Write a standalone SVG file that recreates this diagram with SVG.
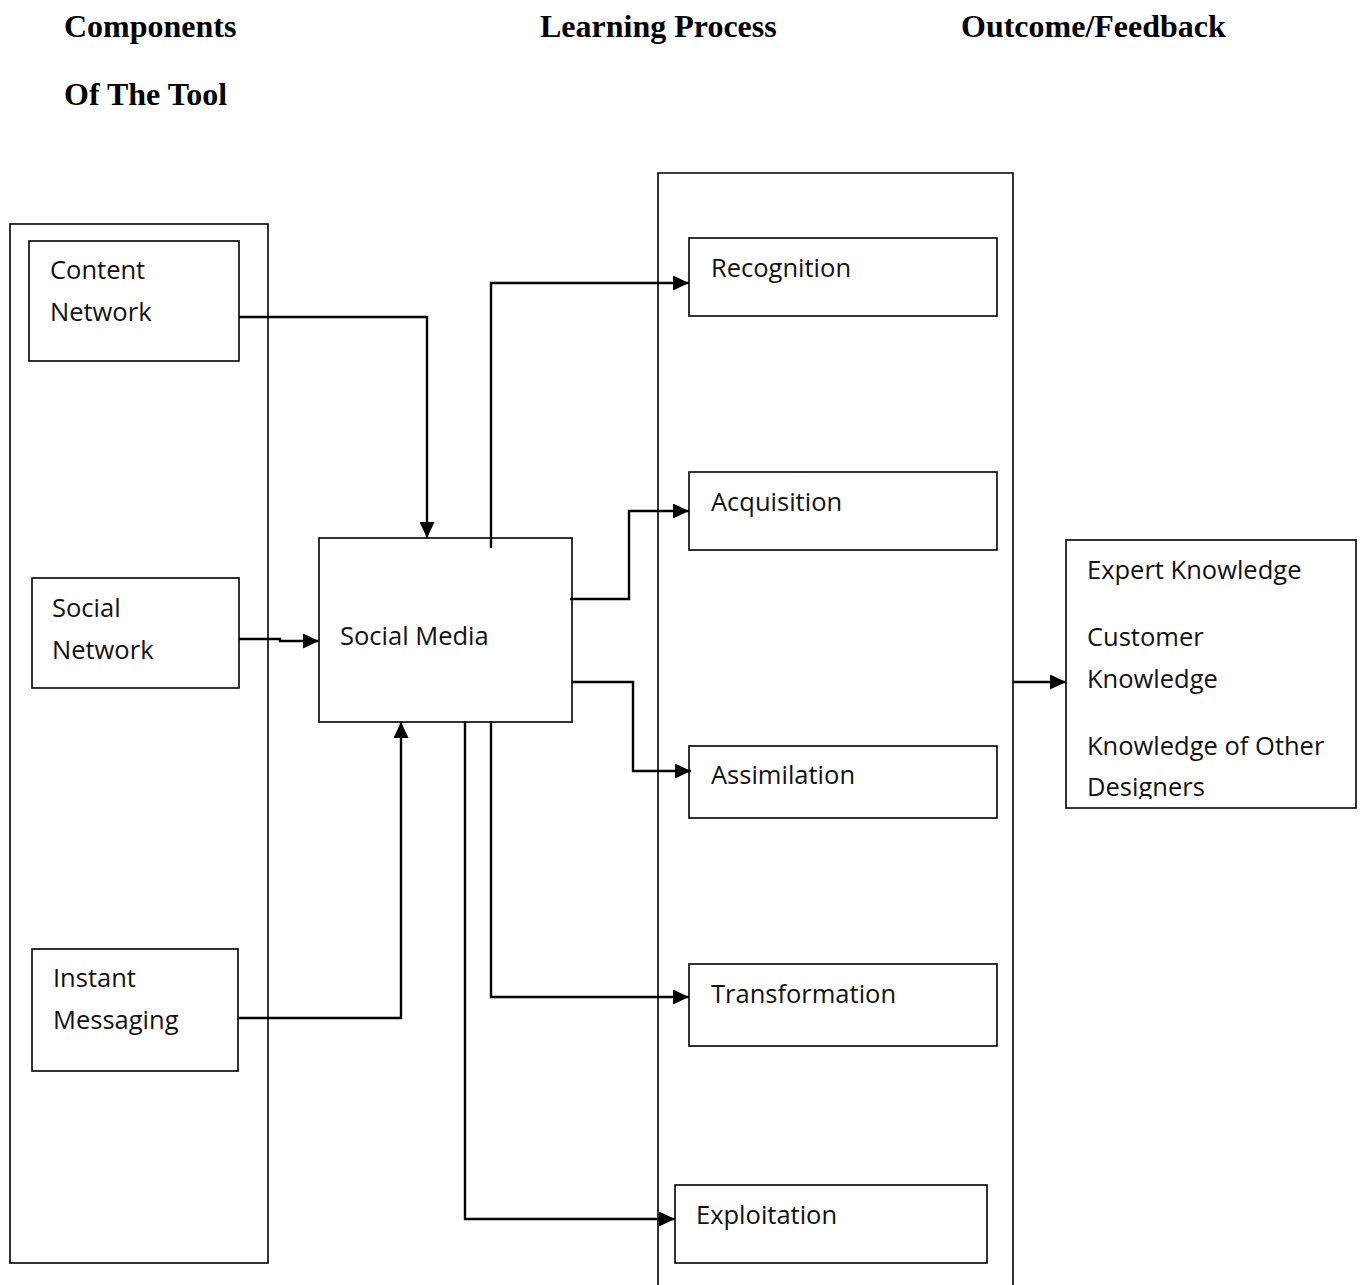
<svg xmlns="http://www.w3.org/2000/svg" width="1362" height="1285" viewBox="0 0 1362 1285">
<style>
.hdr{font-family:"Liberation Serif","Times New Roman",serif;font-weight:bold;font-size:32px;fill:#000}
.t{font-family:"Open Sans","Noto Sans",sans-serif;font-size:25.5px;fill:#111}
.box{fill:#fff;stroke:#000;stroke-width:1.6}
.frame{fill:none;stroke:#000;stroke-width:1.6}
.c{fill:none;stroke:#000;stroke-width:2.4}
</style>
<defs>
<marker id="ah" viewBox="0 0 16 15" refX="16" refY="7.5" markerWidth="16" markerHeight="15" markerUnits="userSpaceOnUse" orient="auto">
<path d="M0,0 L16,7.5 L0,15 Z" fill="#000"/>
</marker>
<clipPath id="oc"><rect x="1066" y="540" width="290" height="259"/></clipPath>
</defs>
<rect width="1362" height="1285" fill="#fff"/>
<g id="headers">
<text class="hdr" x="64" y="37">Components</text>
<text class="hdr" x="64" y="105">Of The Tool</text>
<text class="hdr" x="540" y="37">Learning Process</text>
<text class="hdr" x="961" y="37">Outcome/Feedback</text>
</g>
<g id="frame-components"><rect class="frame" x="10" y="224" width="258" height="1039"/></g>
<g id="frame-learning"><path class="frame" d="M658,1290 L658,173 L1013,173 L1013,1290"/></g>
<g id="content-network"><rect class="box" x="29" y="241" width="210" height="120"/>
<text class="t" x="50" y="279">Content</text><text class="t" x="50" y="321">Network</text></g>
<g id="social-network"><rect class="box" x="32" y="578" width="207" height="110"/>
<text class="t" x="52" y="617">Social</text><text class="t" x="52" y="659">Network</text></g>
<g id="instant-messaging"><rect class="box" x="32" y="949" width="206" height="122"/>
<text class="t" x="53" y="987">Instant</text><text class="t" x="53" y="1029">Messaging</text></g>
<g id="social-media"><rect class="box" x="319" y="538" width="253" height="184"/>
<text class="t" x="340" y="645">Social Media</text></g>
<g id="recognition"><rect class="box" x="689" y="238" width="308" height="78"/>
<text class="t" x="711" y="277">Recognition</text></g>
<g id="acquisition"><rect class="box" x="689" y="472" width="308" height="78"/>
<text class="t" x="711" y="511">Acquisition</text></g>
<g id="assimilation"><rect class="box" x="689" y="746" width="308" height="72"/>
<text class="t" x="711" y="784">Assimilation</text></g>
<g id="transformation"><rect class="box" x="689" y="964" width="308" height="82"/>
<text class="t" x="711" y="1003">Transformation</text></g>
<g id="exploitation"><rect class="box" x="675" y="1185" width="312" height="78"/>
<text class="t" x="696" y="1224">Exploitation</text></g>
<g id="outcome">
<rect class="box" x="1066" y="540" width="290" height="268"/>
<g clip-path="url(#oc)">
<text class="t" x="1087" y="579">Expert Knowledge</text>
<text class="t" x="1087" y="646">Customer</text>
<text class="t" x="1087" y="688">Knowledge</text>
<text class="t" x="1087" y="755">Knowledge of Other</text>
<text class="t" x="1087" y="796">Designers</text>
</g>
</g>
<g id="connectors">
<path class="c" d="M239,317 H427 V538" marker-end="url(#ah)"/>
<path class="c" d="M239,639 H280 V641 H319" marker-end="url(#ah)"/>
<path class="c" d="M238,1018 H401 V722" marker-end="url(#ah)"/>
<path class="c" d="M491,548 V283 H689" marker-end="url(#ah)"/>
<path class="c" d="M570,599 H629 V511 H689" marker-end="url(#ah)"/>
<path class="c" d="M572,682 H633 V771 H691" marker-end="url(#ah)"/>
<path class="c" d="M491,722 V997 H689" marker-end="url(#ah)"/>
<path class="c" d="M465,722 V1219 H675" marker-end="url(#ah)"/>
<path class="c" d="M1013,682 H1066" marker-end="url(#ah)"/>
</g>
</svg>
